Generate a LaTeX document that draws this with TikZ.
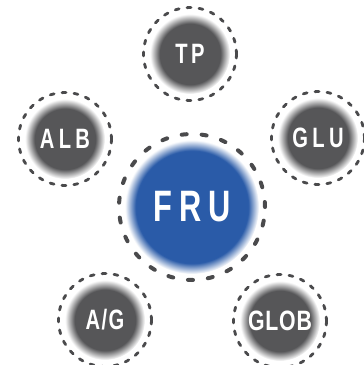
\documentclass[tikz,border=0pt]{standalone}
\usepackage{fontspec}
\setmainfont{Liberation Sans}
\definecolor{cgray}{HTML}{565658}
\definecolor{cblue}{HTML}{2A5BA8}
\definecolor{cring}{HTML}{4A4A4C}
\pgfdeclareradialshading{fuzzgray}{\pgfpoint{0bp}{0bp}}{color(0bp)=(cgray); color(19bp)=(cgray); color(25bp)=(white); color(50bp)=(white)}
\pgfdeclareradialshading{fuzzblue}{\pgfpoint{0bp}{0bp}}{color(0bp)=(cblue); color(21bp)=(cblue); color(25bp)=(white); color(50bp)=(white)}
\newcommand{\smalltxt}[2][0.72]{\scalebox{#1}[1]{\fontsize{28}{28}\selectfont\bfseries #2}}
\newcommand{\bigtxt}[1]{\scalebox{0.7}[1]{\fontsize{44}{44}\selectfont\bfseries #1}}
\tikzset{
  small/.style={circle, inner sep=0pt, minimum size=80pt, shading=fuzzgray, text=white},
  big/.style={circle, inner sep=0pt, minimum size=134pt, shading=fuzzblue, text=white},
  smallring/.style={draw=cring, line width=2.8pt, dash pattern=on 4pt off 8pt, line cap=round},
  bigring/.style={draw=cring, line width=4pt, dash pattern=on 5pt off 15pt, line cap=round}
}
\begin{document}
\begin{tikzpicture}[x=1pt, y=-1pt]
\useasboundingbox (0,0) rectangle (364,365);
\node[small] (tp) at (190,54) {\smalltxt{T\kern5pt P}};
\node[small] (alb) at (65,139) {\smalltxt{A\kern6pt L\kern6pt B}};
\node[small] (glu) at (318,138) {\smalltxt{G\kern6pt L\kern6pt U}};
\node[small] (ag) at (105,320) {\smalltxt{A\kern2pt/\kern2pt G}};
\node[small] (glob) at (280,321) {\smalltxt[0.76]{G\kern1pt L\kern1pt O\kern1pt B}};
\node[big] (fru) at (192,207) {\bigtxt{F\kern10pt R\kern10pt U}};
\draw[smallring] (tp) circle (46.5pt);
\draw[smallring] (alb) circle (46.5pt);
\draw[smallring] (glu) circle (46.5pt);
\draw[smallring] (ag) circle (46.5pt);
\draw[smallring] (glob) circle (46.5pt);
\draw[bigring] (fru) circle (73pt);
\end{tikzpicture}
\end{document}
